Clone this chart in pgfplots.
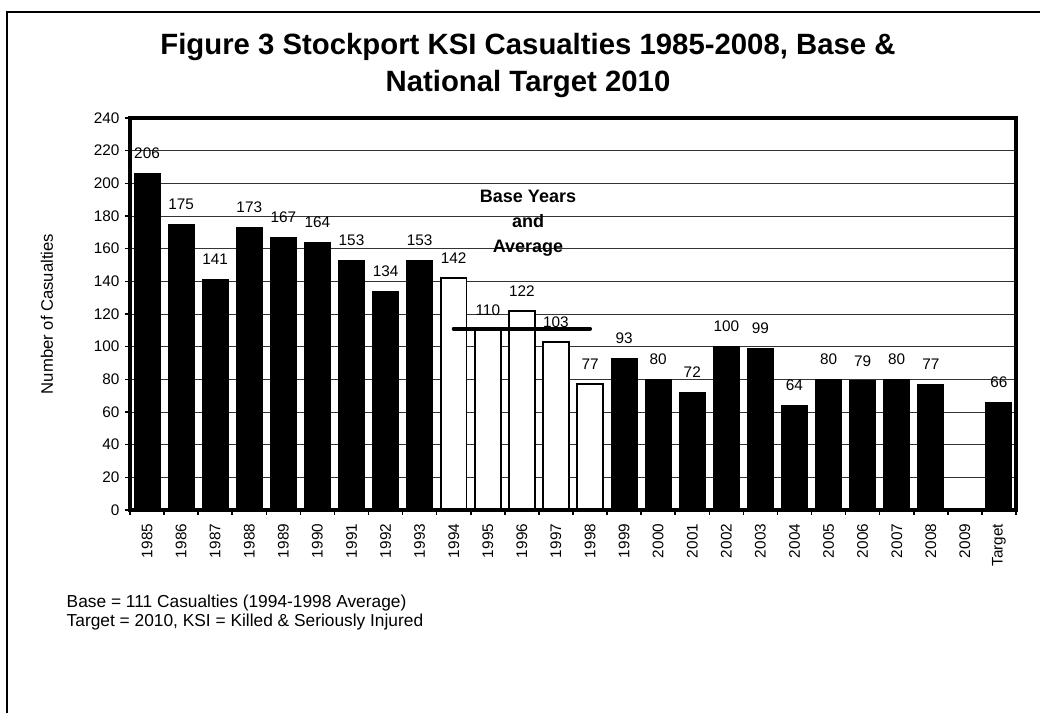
\documentclass[border=0pt]{standalone}
\usepackage{pgfplots}
\pgfplotsset{compat=1.18}
\usepackage{fontspec}
\setmainfont{Liberation Sans}

\pgfplotstableread{
x y
0 206
1 175
2 141
3 173
4 167
5 164
6 153
7 134
8 153
14 93
15 80
16 72
17 100
18 99
19 64
20 80
21 79
22 80
23 77
25 66
}\blackbars

\pgfplotstableread{
x y
9 142
10 110
11 122
12 103
13 77
}\basebars

\begin{document}
\begin{tikzpicture}[x=0.75pt,y=0.75pt]
\useasboundingbox (0,0) rectangle (1040,713);
\clip (0,0) rectangle (1040,713);
\draw[line width=1.6pt] (7,-10) rectangle (1048,701);

\node[font=\fontsize{22}{26}\selectfont\bfseries] at (528,666) {Figure 3 Stockport KSI Casualties 1985-2008, Base \&};
\node[font=\fontsize{22}{26}\selectfont\bfseries] at (528,629) {National Target 2010};

\node[rotate=90, font=\fontsize{12.5}{15}\selectfont] at (47,399) {Number of Casualties};

\node[anchor=west, font=\fontsize{13}{15}\selectfont] at (62,110) {Base = 111 Casualties (1994-1998 Average)};
\node[anchor=west, font=\fontsize{13}{15}\selectfont] at (62,91) {Target = 2010, KSI = Killed \& Seriously Injured};

\begin{axis}[
  at={(97.5pt,152.25pt)}, anchor=south west,
  scale only axis, width=664.5pt, height=294pt,
  xmin=-0.5, xmax=25.5, ymin=0, ymax=240,
  /pgf/number format/assume math mode=true,
  ytick={0,20,...,240},
  xtick={-0.5,0.5,...,25.5},
  x tick label as interval,
  xticklabels={1985,1986,1987,1988,1989,1990,1991,1992,1993,1994,1995,1996,1997,1998,1999,2000,2001,2002,2003,2004,2005,2006,2007,2008,2009,Target},
  x tick label style={rotate=90, anchor=east, font=\fontsize{11.5}{13}\selectfont, inner sep=2pt},
  y tick label style={font=\fontsize{11.5}{13}\selectfont, inner sep=2pt},
  xticklabel shift=4.5pt,
  yticklabel shift=2pt,
  xtick pos=bottom, ytick pos=left,
  tick align=outside,
  major tick length=3.75pt,
  tick style={line width=1.1pt, black},
  ymajorgrids,
  grid style={black!80, line width=0.6pt},
  axis line style={line width=2.4pt},
  ybar, bar width=0.76, bar shift=0pt,
]
\addplot[fill=black, draw=black, line width=0.8pt,
  nodes near coords,
  every node near coord/.append style={anchor=center, yshift=15pt, font=\fontsize{11.5}{13}\selectfont, black}]
  table[x=x,y=y] {\blackbars};
\addplot[fill=white, draw=black, line width=1.2pt,
  nodes near coords,
  every node near coord/.append style={anchor=center, yshift=15pt, font=\fontsize{11.5}{13}\selectfont, black}]
  table[x=x,y=y] {\basebars};
\addplot[sharp plot, black, line width=3pt, line cap=round, mark=none]
  coordinates {(9,111) (13,111)};
\node[align=center, font=\fontsize{13.5}{18.75}\selectfont\bfseries] at (axis cs:11.18,175.7) {Base Years\\and\\Average};
\draw[line width=2.4pt] (rel axis cs:0,0) rectangle (rel axis cs:1,1);
\end{axis}
\end{tikzpicture}
\end{document}
